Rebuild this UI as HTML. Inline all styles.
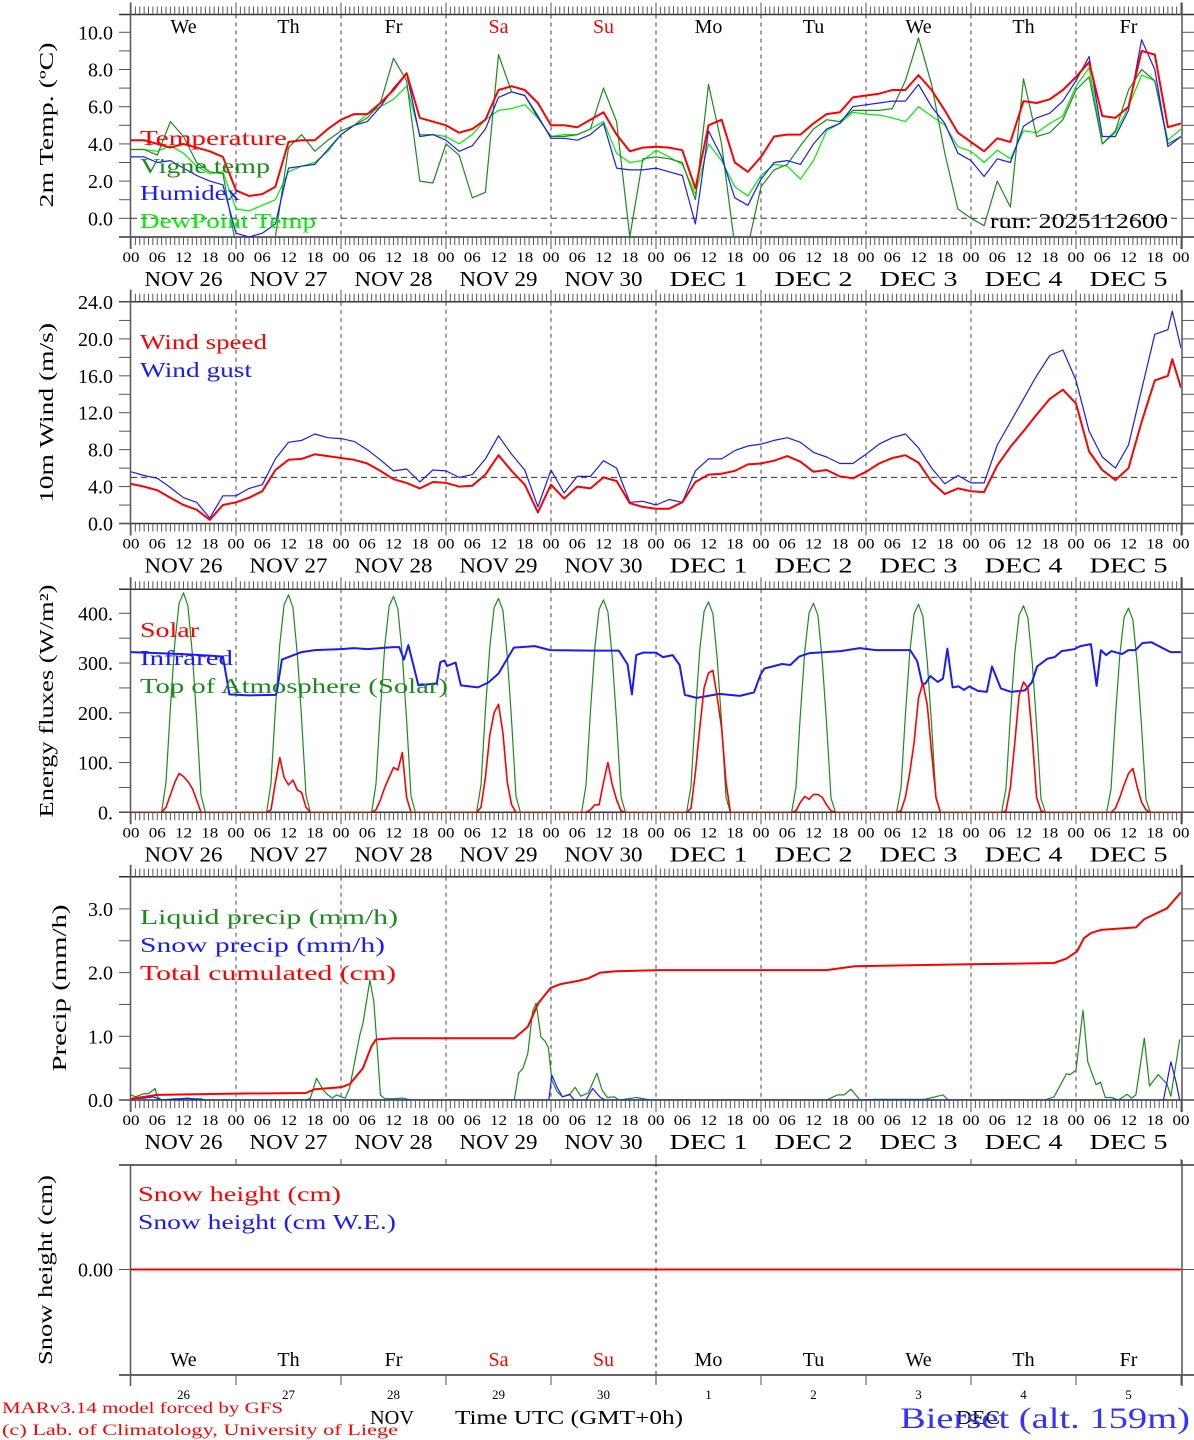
<!DOCTYPE html>
<html><head><meta charset="utf-8"><title>MAR forecast Bierset</title>
<style>
html,body{margin:0;padding:0;background:#fff;}
svg{display:block;font-family:"Liberation Serif","DejaVu Serif",serif;}
</style></head>
<body>
<svg id="chart" width="1194" height="1440" viewBox="0 0 1194 1440" xmlns="http://www.w3.org/2000/svg">
<rect width="1194" height="1440" fill="#fff"/>
</svg>
<script>
// ---------- DATA ----------
const dayNames = ["We","Th","Fr","Sa","Su","Mo","Tu","We","Th","Fr"];
const dayLabels = ["NOV 26","NOV 27","NOV 28","NOV 29","NOV 30","DEC  1","DEC  2","DEC  3","DEC  4","DEC  5"];
const dayNums = ["26","27","28","29","30","1","2","3","4","5"];
const hourLabels = ["00","06","12","18"];
const tempTicks = ["10.0","8.0","6.0","4.0","2.0","0.0"];
const tempTickVals = [10,8,6,4,2,0];
const windTickVals = [24,20,16,12,8,4,0];
const windTicks = ["24.0","20.0","16.0","12.0","8.0","4.0","0.0"];
const energyTickVals = [400,300,200,100,0];
const energyTicks = ["400.","300.","200.","100.","0."];
const precipTickVals = [3,2,1,0];
const precipTicks = ["3.0","2.0","1.0","0.0"];

// temperatures, 3-hourly from Nov 26 00 UTC (81 values)
const temperature = [
4.2,4.2,4.0,3.8,4.0,3.8,3.6,3.3,
1.5,1.2,1.3,1.7,4.1,4.2,4.2,4.8,
5.3,5.6,5.6,6.2,6.9,7.8,5.4,5.2,
5.0,4.6,4.8,5.3,6.9,7.1,6.9,6.2,
5.0,5.0,4.9,5.3,5.7,4.5,3.6,3.8,
3.85,3.8,3.66,1.6,5.0,5.3,3.0,2.5,
3.3,4.4,4.5,4.5,5.1,5.6,5.7,6.5,
6.6,6.7,6.9,6.9,7.7,6.9,5.8,4.6,
4.1,3.6,4.3,4.1,6.3,6.2,6.4,6.9,
7.6,8.4,5.5,5.4,6.0,9.0,8.8,4.9,5.1];
const vigneTemp = [
3.7,3.7,3.4,5.2,4.4,3.0,2.5,2.4,
-1.5,-1.5,-1.5,-1.0,3.8,4.5,3.6,4.2,
4.7,5.0,5.4,6.2,8.6,7.4,2.0,1.9,
4.0,3.4,1.1,1.4,8.8,6.8,6.6,5.4,
4.4,4.4,4.5,4.8,7.0,5.2,-1.0,3.2,
3.3,3.2,3.0,1.0,7.2,4.0,-1.5,-1.5,
1.7,2.6,2.9,3.9,4.8,5.3,5.2,5.8,
5.8,5.8,5.9,7.4,9.7,7.2,3.5,0.5,
0.0,-0.4,2.0,0.6,7.5,4.4,4.6,5.3,
6.9,7.6,4.0,4.7,6.9,8.0,7.4,4.0,4.4];
const humidex = [
3.3,3.3,3.0,3.1,2.7,2.3,2.0,1.8,
-0.8,-1.0,-0.8,-0.3,2.7,2.8,2.9,3.7,
4.5,5.0,5.2,6.0,7.0,7.8,4.4,4.5,
4.2,3.6,3.9,4.8,6.5,6.8,6.6,5.5,
4.3,4.3,4.2,4.5,5.1,2.7,2.6,2.6,
2.7,2.5,2.3,-0.3,4.7,3.3,1.1,0.7,
2.1,3.0,3.1,2.9,4.0,4.8,5.1,6.0,
6.1,6.2,6.3,6.3,7.2,6.0,5.1,3.5,
3.1,2.25,3.2,3.0,4.95,5.4,5.65,6.3,
7.4,8.7,4.4,4.4,5.8,9.6,8.0,3.85,4.4];
const dewPoint = [
3.7,3.7,3.6,3.9,3.5,2.8,2.4,2.5,
0.5,0.4,0.7,1.0,2.5,2.8,3.0,3.6,
4.5,5.0,5.6,6.0,6.4,7.1,4.5,4.5,
4.4,4.0,4.5,5.3,5.8,5.9,6.1,5.4,
4.4,4.5,4.5,4.8,5.2,3.5,3.0,3.1,
3.66,3.3,2.9,1.3,4.0,3.1,1.7,1.2,
2.3,2.9,2.8,2.1,3.1,4.7,5.1,5.7,
5.6,5.55,5.4,5.2,6.0,5.5,5.0,3.85,
3.6,3.0,3.66,3.2,4.7,4.6,5.1,5.5,
7.1,8.1,4.0,4.6,6.0,7.7,7.4,4.2,4.8];

// wind (m/s)
const windHours = [0,3,6,9,12,15,18,21,24,27,30,33,36,39,42,45,48,51,54,57,60,63,66,69,72,75,78,81,84,87,90,93,96,99,102,105,108,111,114,117,120,123,126,129,132,135,138,141,144,147,150,153,156,159,162,165,168,171,174,177,180,183,186,189,192,195,198,201,204,207,210,213,216,219,222,225,228,231,234,237,238,240];
const windSpeed = [4.3,4.0,3.6,2.8,2.0,1.5,0.4,2.0,2.3,2.8,3.5,5.8,6.9,7.0,7.5,7.3,7.1,6.9,6.5,5.7,4.8,4.4,3.8,4.5,4.4,4.0,4.1,5.3,7.4,5.7,4.2,1.2,4.2,2.7,4.0,3.8,5.0,4.6,2.2,1.8,1.6,1.6,2.3,4.5,5.3,5.4,5.7,6.4,6.5,6.8,7.3,6.7,5.6,5.8,5.1,4.9,5.6,6.5,7.1,7.4,6.6,4.5,3.2,3.8,3.5,3.4,6.3,8.3,10.0,11.8,13.5,14.5,13.0,7.8,5.8,4.7,6.0,11.0,15.5,16.0,17.8,14.7];
const windGust = [5.6,5.2,4.9,3.9,2.8,2.3,0.6,3.0,3.0,3.8,4.2,7.0,8.8,9.0,9.7,9.3,9.2,8.9,8.0,6.9,5.7,5.9,4.5,5.8,5.7,5.0,5.3,7.0,9.5,7.5,5.8,1.8,5.8,3.3,5.1,5.1,6.8,6.0,2.3,2.4,2.0,2.6,2.3,5.7,7.0,7.0,7.9,8.4,8.6,9.0,9.3,8.8,7.7,7.2,6.5,6.5,7.5,8.6,9.3,9.7,8.2,6.0,4.3,5.2,4.4,4.4,8.5,11.0,13.5,16.0,18.2,18.8,15.5,10.0,7.2,6.0,8.5,14.5,20.5,21.0,23.0,19.0];

// energy fluxes (W/m2): hourly values from 06 to 17 UTC each day
const toaByDay = [
[0,0,60,210,340,420,441,415,320,190,35,0],
[0,0,58,208,338,417,437,412,318,188,34,0],
[0,0,57,206,335,414,434,409,316,186,33,0],
[0,0,55,204,332,411,430,406,313,184,32,0],
[0,0,54,202,330,408,427,403,310,182,31,0],
[0,0,52,200,327,404,423,399,307,180,30,0],
[0,0,50,198,324,401,420,396,304,178,29,0],
[0,0,49,196,322,399,418,394,302,176,28,0],
[0,0,48,194,320,396,415,391,300,174,27,0],
[0,0,46,191,316,392,410,387,296,171,26,0]];
const solarByDay = [
[0,0,10,35,60,78,72,62,48,25,0,0],
[0,0,5,60,110,70,55,65,45,40,10,0],
[0,0,5,25,50,70,90,85,120,30,0,0],
[0,0,10,70,155,200,217,160,60,15,0,0],
[0,0,0,5,15,15,60,100,55,25,3,0],
[0,0,8,80,170,250,280,285,230,170,60,0],
[0,0,3,20,32,26,36,36,30,15,3,0],
[0,0,3,30,80,140,230,260,215,120,30,0],
[0,0,3,50,140,235,262,250,150,30,3,0],
[0,0,0,8,30,55,78,88,50,20,5,0]];
const irHours = [0,6,12,18,21,22.5,27,33,33.3,34.5,36,39,42,45,48,51,54,57,60,61.3,62.4,63.4,65.7,69.9,70.7,71.7,72.2,74.2,75.4,79.3,81.7,84,87.5,92.3,95.8,105,111.5,113.5,114.5,115.5,117.1,120,121.6,123.8,125.4,126.6,129.3,134.5,139.2,142.4,143.9,144.8,148.8,150.7,152.7,155.1,162.2,166.6,170.2,178.1,179.7,180.9,181.6,182.7,184.4,185.6,186.6,187.8,189.2,190.4,191.6,193.6,195.6,196.8,198.8,201.2,204.3,205.9,207.1,209.5,211.1,212.7,215.6,217,219.4,220.7,221.7,222.9,224.1,226.5,228,229.6,231.2,233.2,237.6,240];
const irValues = [322,320,318,315,313,237,235,236,240,307,312,322,326,327,328,330,328,330,332,332,307,336,255,259,302,305,294,301,255,251,261,279,331,334,326,325,325,297,237,316,321,321,312,316,296,236,230,238,234,241,277,289,298,296,313,320,324,330,326,326,304,257,259,274,262,269,329,251,253,246,253,244,242,293,249,242,245,261,293,309,312,324,328,334,338,254,326,316,324,318,326,326,340,342,322,322];

// precipitation
const totalHours = [0,6,24,40,42,48,50,53,55,56,60,87.6,90.7,93.1,95.9,98.2,102.2,104.5,107.3,110.8,120.9,159,165.4,191.5,211,213.8,216.2,217.8,219.4,221.7,229.7,231.6,236.8,239.6,240];
const totalCum = [0.02,0.08,0.10,0.11,0.17,0.20,0.25,0.50,0.85,0.95,0.97,0.97,1.15,1.52,1.76,1.82,1.87,1.91,2.00,2.02,2.04,2.04,2.10,2.13,2.15,2.22,2.33,2.54,2.62,2.67,2.71,2.84,3.01,3.23,3.26];
const liquidHours = [0,1,3,4,5.5,6,7,10,16,17,40,41,42.4,44,45,46,47,48,49,50,52.3,53,54.6,55.5,56.5,57,58,60,62,64,87.6,88.6,89.6,90.7,91.8,92.6,93.7,94.7,95.4,96.2,97.4,98.6,100.2,101.5,102.8,104.5,106.5,107.7,108.9,110.4,111.6,115.5,117.9,119,159,161.5,163,164.6,166.6,170,181.3,185.6,186.8,209,211,213.8,214.7,216,217.6,218.7,220.6,221.6,222.7,224.1,225.7,227.7,228.7,229.7,231.6,232.8,234.8,236.8,237.7,239.7];
const liquidPrecip = [0.08,0.05,0.1,0.1,0.18,0.05,0,0.02,0.02,0,0,0.03,0.34,0.15,0.08,0.03,0.08,0.05,0.03,0.2,1.02,1.2,1.88,1.55,0.6,0.08,0.02,0.02,0.03,0,0,0.42,0.5,0.73,1.39,1.52,0.99,0.92,0.82,0.31,0.13,0.05,0.08,0.2,0.06,0.11,0.42,0.15,0.04,0.05,0,0.04,0.01,0,0,0.08,0.08,0.17,0,0.01,0.01,0.08,0,0,0.05,0.41,0.4,0.47,1.41,0.6,0.24,0.28,0.04,0.04,0,0.09,0.03,0.08,0.97,0.22,0.4,0.25,0.06,0.95];
const snowHours = [0,3,5,7,10,13,16,95.5,96.2,97.4,98.6,100.2,101.4,104,105.5,107.3,108.5,236,237.7,238.8,239.7];
const snowPrecip = [0.02,0.03,0.05,0,0.01,0.03,0,0,0.39,0.2,0.05,0.09,0,0,0.18,0.04,0,0,0.6,0.3,0];
const snowHeight = [0,0];
const snowHeightHours = [0,240];

// ---------- RENDER ----------
const svg = document.getElementById('chart');
const NS = 'http://www.w3.org/2000/svg';
const X0 = 131, X1 = 1181, HOURS = 240;
const xOf = h => X0 + h * (X1 - X0) / HOURS;
const yTemp = v => 218.3 - v * 18.6;
const yWind = v => 523.5 - v * 9.23;
const yEnergy = v => 812.3 - v * 0.4975;
const yPrecip = v => 1100 - v * 63.7;
const ySnow = v => 1269.5 - v * 100;

function mk(tag, attrs, parent) {
  const e = document.createElementNS(NS, tag);
  for (const k in attrs) e.setAttribute(k, attrs[k]);
  (parent || svg).appendChild(e);
  return e;
}
function txt(x, y, s, name, o) {
  o = o || {};
  const t = mk('text', {x: x, y: y, 'font-size': o.size || 20, fill: o.fill || '#000', 'text-anchor': o.anchor || 'start'});
  if (o.len) { t.setAttribute('textLength', o.len); t.setAttribute('lengthAdjust', 'spacingAndGlyphs'); }
  if (o.rot) t.setAttribute('transform', 'rotate(-90 ' + x + ' ' + y + ')');
  t.textContent = s;
  
  
  return t;
}
function ln(x1, y1, x2, y2, name, o) {
  o = o || {};
  const l = mk('line', {x1: x1, y1: y1, x2: x2, y2: y2, stroke: o.stroke || '#444', 'stroke-width': o.w || 1});
  if (o.dash) l.setAttribute('stroke-dasharray', o.dash);
  
  
  return l;
}
function series(hours, vals, yf, color, w, name, clip) {
  let d = '';
  for (let i = 0; i < vals.length; i++) d += (i ? 'L' : 'M') + xOf(hours[i]).toFixed(1) + ' ' + yf(vals[i]).toFixed(1);
  const p = mk('path', {d: d, fill: 'none', stroke: color, 'stroke-width': w, 'stroke-linejoin': 'round', 'clip-path': 'url(#' + clip + ')'});
  
  
  return p;
}
const threeHourly = arr => arr.map((v, i) => i * 3);
function dailyProfile(rows) {
  const h = [], v = [];
  rows.forEach((r, d) => { r.forEach((val, k) => { h.push(d * 24 + 6 + k); v.push(val); }); });
  return {h: [0].concat(h, [240]), v: [0].concat(v, [0])};
}

const defs = mk('defs', {});
const panels = [
  {id: 'temp', top: 14.5, bot: 237},
  {id: 'wind', top: 301.7, bot: 523.5},
  {id: 'energy', top: 589.3, bot: 812.3},
  {id: 'precip', top: 876.7, bot: 1100}
];
panels.forEach(p => {
  const cp = mk('clipPath', {id: 'clip-' + p.id}, defs);
  mk('rect', {x: X0, y: p.top, width: X1 - X0, height: p.bot - p.top}, cp);
});
const cpS = mk('clipPath', {id: 'clip-snow'}, defs);
mk('rect', {x: X0, y: 1165, width: X1 - X0, height: 210}, cpS);

// frames for panels 1-4
panels.forEach(p => {
  const g = mk('g', {});
  
  
  ln(119, p.top, 1194, p.top, p.id + '-top-border', {stroke: '#333', w: 1.5});
  ln(119, p.bot, 1194, p.bot, p.id + '-bottom-border', {stroke: '#333', w: 1.5});
  ln(130.5, p.top - 12, 130.5, p.bot + 12, p.id + '-left-axis', {stroke: '#555', w: 1.5});
  ln(1182, p.top - 12, 1182, p.bot + 12, p.id + '-right-axis', {stroke: '#555', w: 1.5});
  for (let h = 0; h <= 240; h++) {
    const x = xOf(h), big = h % 24 === 0;
    ln(x, p.top - (big ? 12 : 8), x, p.top, p.id + '-top-hour-tick', {stroke: '#555'});
    ln(x, p.bot, x, p.bot + (big ? 12 : 8), p.id + '-bottom-hour-tick', {stroke: '#555'});
  }
  for (let d = 1; d < 10; d++) ln(xOf(d * 24), p.top, xOf(d * 24), p.bot, p.id + '-day-separator', {stroke: '#444', dash: '4 4'});
  // hour labels and day labels
  for (let d = 0; d <= 10; d++) {
    for (let k = 0; k < 4; k++) {
      if (d === 10 && k > 0) break;
      txt(xOf(d * 24 + k * 6), p.bot + 25, hourLabels[k], 'hour-label', {size: 15, anchor: 'middle', len: 17});
    }
  }
  for (let d = 0; d < 10; d++) txt(xOf(d * 24 + 12), p.bot + 49, dayLabels[d], 'date-label', {size: 21, anchor: 'middle', len: 78});
});

// Y axes ticks and labels
function yAxis(vals, labels, yf, minorStep, lo, hi, name) {
  for (let v = lo; v <= hi + 1e-9; v += minorStep) {
    ln(119, yf(v), 130.5, yf(v), name + '-tick', {stroke: '#555'});
    ln(1182, yf(v), 1194, yf(v), name + '-tick-right', {stroke: '#555'});
  }
  vals.forEach((v, i) => txt(113, yf(v) + 7, labels[i], name + '-tick-label', {size: 20, anchor: 'end'}));
}
yAxis(tempTickVals, tempTicks, yTemp, 1, 0, 10, 'temp-y');
yAxis(windTickVals, windTicks, yWind, 2, 0, 24, 'wind-y');
yAxis(energyTickVals, energyTicks, yEnergy, 50, 0, 400, 'energy-y');
yAxis(precipTickVals, precipTicks, yPrecip, 0.5, 0, 3, 'precip-y');

// Y titles
txt(53, 125, '2m Temp. (ºC)', 'temp-y-axis-title', {size: 20, anchor: 'middle', rot: true, len: 165});
txt(53, 413, '10m Wind (m/s)', 'wind-y-axis-title', {size: 20, anchor: 'middle', rot: true, len: 180});
txt(53, 701, 'Energy fluxes (W/m²)', 'energy-y-axis-title', {size: 20, anchor: 'middle', rot: true, len: 233});
txt(66, 988, 'Precip (mm/h)', 'precip-y-axis-title', {size: 20, anchor: 'middle', rot: true, len: 167});
txt(52, 1270, 'Snow height (cm)', 'snow-y-axis-title', {size: 20, anchor: 'middle', rot: true, len: 190});

// day-of-week names in temperature panel
dayNames.forEach((n, d) => txt(xOf(d * 24 + 12), 33, n, 'weekday-label', {size: 20, anchor: 'middle', fill: (d === 3 || d === 4) ? '#ff0000' : '#000'}));

// reference lines
ln(X0, yTemp(0), X1, yTemp(0), 'temp-zero-line', {stroke: '#333', dash: '6 4'});
ln(X0, yWind(5), X1, yWind(5), 'wind-5ms-line', {stroke: '#333', dash: '6 4'});

// temperature series
series(threeHourly(dewPoint), dewPoint, yTemp, '#00ee00', 1.2, 'dewpoint-line', 'clip-temp');
series(threeHourly(vigneTemp), vigneTemp, yTemp, '#1a8c1a', 1.2, 'vigne-temp-line', 'clip-temp');
series(threeHourly(humidex), humidex, yTemp, '#1a1aff', 1.2, 'humidex-line', 'clip-temp');
series(threeHourly(temperature), temperature, yTemp, '#ff0000', 2, 'temperature-line', 'clip-temp');
txt(140, 145, 'Temperature', 'legend-temperature', {size: 21, fill: '#ff0000', len: 147});
txt(140, 173, 'Vigne temp', 'legend-vigne-temp', {size: 21, fill: '#1a8c1a', len: 130});
txt(140, 200, 'Humidex', 'legend-humidex', {size: 21, fill: '#1a1aff', len: 100});
txt(140, 228, 'DewPoint Temp', 'legend-dewpoint', {size: 21, fill: '#00ee00', len: 176});
txt(990, 228, 'run: 2025112600', 'run-label', {size: 21, len: 178});

// wind
series(windHours, windGust, yWind, '#1a1aff', 1.2, 'wind-gust-line', 'clip-wind');
series(windHours, windSpeed, yWind, '#ff0000', 2, 'wind-speed-line', 'clip-wind');
txt(140, 349, 'Wind speed', 'legend-wind-speed', {size: 21, fill: '#ff0000', len: 127});
txt(140, 377, 'Wind gust', 'legend-wind-gust', {size: 21, fill: '#1a1aff', len: 112});

// energy
const toa = dailyProfile(toaByDay);
const sol = dailyProfile(solarByDay);
series(toa.h, toa.v, yEnergy, '#1a8c1a', 1.2, 'toa-solar-line', 'clip-energy');
series(irHours, irValues, yEnergy, '#1a1aff', 2, 'infrared-line', 'clip-energy');
series(sol.h, sol.v, yEnergy, '#ff0000', 1.6, 'solar-line', 'clip-energy');
txt(140, 637, 'Solar', 'legend-solar', {size: 21, fill: '#ff0000', len: 59});
txt(140, 665, 'Infrared', 'legend-infrared', {size: 21, fill: '#1a1aff', len: 93});
txt(140, 693, 'Top of Atmosphere (Solar)', 'legend-toa', {size: 21, fill: '#1a8c1a', len: 308});

// precip
series(liquidHours, liquidPrecip, yPrecip, '#1a8c1a', 1.2, 'liquid-precip-line', 'clip-precip');
series(snowHours, snowPrecip, yPrecip, '#1a1aff', 1.2, 'snow-precip-line', 'clip-precip');
series(totalHours, totalCum, yPrecip, '#ff0000', 2, 'total-cumulated-line', 'clip-precip');
txt(140, 924, 'Liquid precip (mm/h)', 'legend-liquid-precip', {size: 21, fill: '#1a8c1a', len: 258});
txt(140, 952, 'Snow precip (mm/h)', 'legend-snow-precip', {size: 21, fill: '#1a1aff', len: 245});
txt(140, 980, 'Total cumulated (cm)', 'legend-total-cumulated', {size: 21, fill: '#ff0000', len: 256});

// snow panel
ln(119, 1165, 1194, 1165, 'snow-top-border', {stroke: '#333', w: 1.5});
ln(119, 1375, 1194, 1375, 'snow-bottom-border', {stroke: '#333', w: 1.5});
ln(130.5, 1165, 130.5, 1386, 'snow-left-axis', {stroke: '#555', w: 1.5});
ln(1182, 1160, 1182, 1386, 'snow-right-axis', {stroke: '#555', w: 1.5});
for (let d = 1; d <= 10; d++) {
  ln(xOf(d * 24), 1159, xOf(d * 24), 1165, 'snow-top-day-tick', {stroke: '#555'});
  ln(xOf(d * 24), 1375, xOf(d * 24), 1385, 'snow-bottom-day-tick', {stroke: '#555'});
}
ln(xOf(120), 1155, xOf(120), 1386, 'snow-month-separator', {stroke: '#333', dash: '4 4'});
ln(119, ySnow(0), 130.5, ySnow(0), 'snow-y-tick', {stroke: '#555'});
ln(1182, ySnow(0), 1194, ySnow(0), 'snow-y-tick-right', {stroke: '#555'});
txt(113, ySnow(0) + 7, '0.00', 'snow-y-tick-label', {size: 20, anchor: 'end'});
series(snowHeightHours, snowHeight, ySnow, '#ff0000', 2, 'snow-height-line', 'clip-snow');
txt(138, 1201, 'Snow height (cm)', 'legend-snow-height', {size: 21, fill: '#ff0000', len: 203});
txt(138, 1229, 'Snow height (cm W.E.)', 'legend-snow-height-we', {size: 21, fill: '#1a1aff', len: 258});
dayNames.forEach((n, d) => txt(xOf(d * 24 + 12), 1366, n, 'snow-weekday-label', {size: 20, anchor: 'middle', fill: (d === 3 || d === 4) ? '#ff0000' : '#000'}));
dayNums.forEach((n, d) => txt(xOf(d * 24 + 12), 1399, n, 'snow-day-number', {size: 13, anchor: 'middle'}));
txt(392, 1424, 'NOV', 'month-label-nov', {size: 20, anchor: 'middle', len: 44});
txt(455, 1424, 'Time UTC (GMT+0h)', 'x-axis-title', {size: 20, len: 228});
txt(978, 1424, 'DEC', 'month-label-dec', {size: 20, anchor: 'middle', len: 44});
txt(900, 1428, 'Bierset (alt. 159m)', 'station-label', {size: 30, fill: '#3333ff', len: 290});
txt(2, 1413, 'MARv3.14 model forced by GFS', 'model-credit', {size: 16, fill: '#ff0000', len: 281});
txt(2, 1435, '(c) Lab. of Climatology, University of Liege', 'lab-credit', {size: 16, fill: '#ff0000', len: 396});
</script>
</body></html>
